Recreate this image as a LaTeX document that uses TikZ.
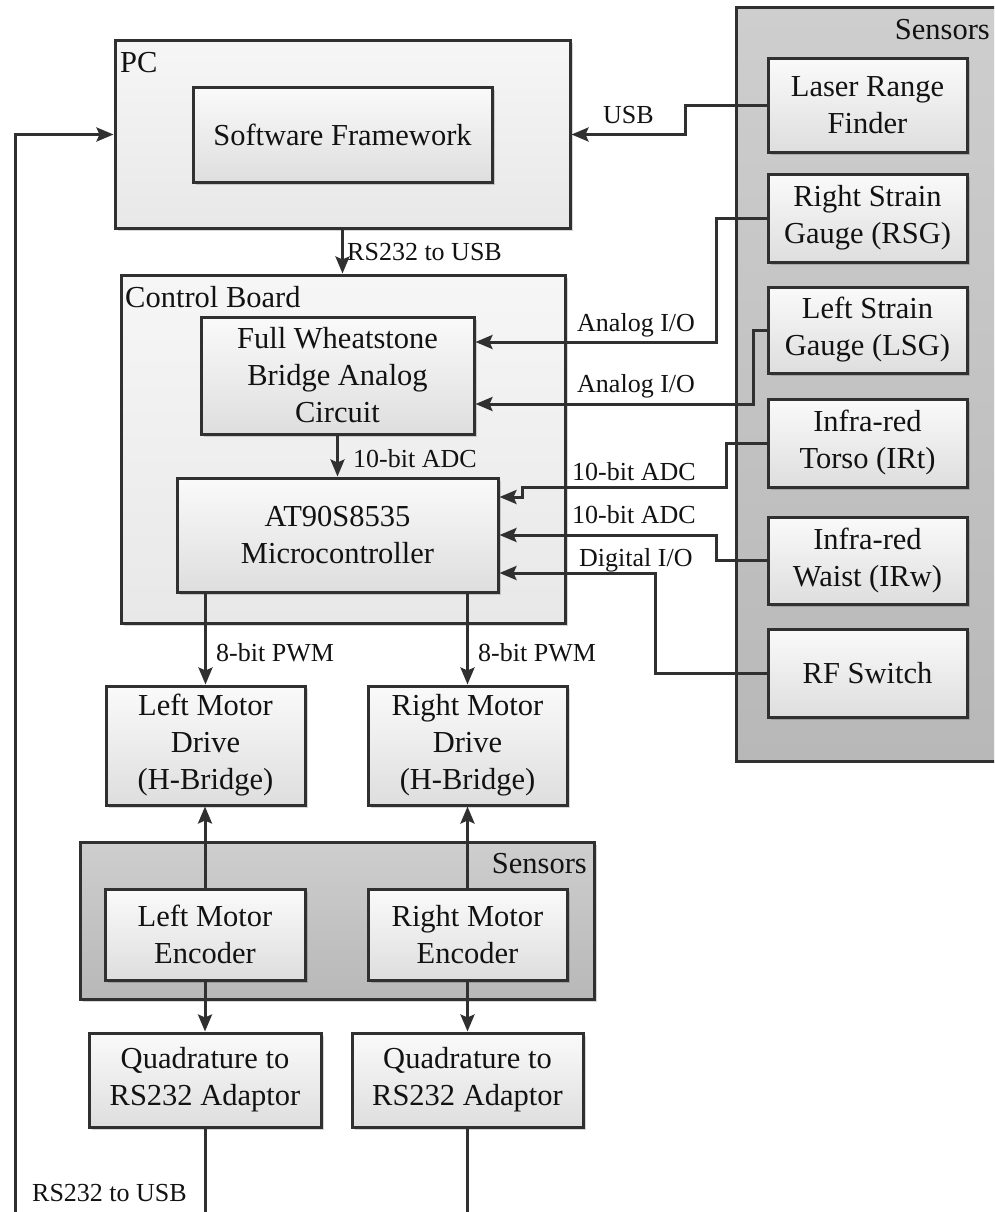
\documentclass[tikz,border=0pt]{standalone}
\usepackage{fontspec}
\setmainfont{Liberation Serif}
\usetikzlibrary{arrows.meta,shadows}

\definecolor{linecol}{RGB}{48,48,48}
\definecolor{textcol}{RGB}{18,18,18}
\definecolor{blktop}{RGB}{250,250,250}
\definecolor{blkbot}{RGB}{222,222,222}
\definecolor{grptop}{RGB}{246,246,246}
\definecolor{grpbot}{RGB}{232,232,232}
\definecolor{sentop}{RGB}{206,206,206}
\definecolor{senbot}{RGB}{184,184,184}

\newcommand\blkfont{\fontsize{30.5}{37}\selectfont}
\newcommand\lblfont{\fontsize{26}{30}\selectfont}

\begin{document}
\begin{tikzpicture}[x=1pt,y=-1pt,
  every node/.style={text=textcol},
  wire/.style={draw=linecol,line width=3pt},
  feed/.style={wire,-{Stealth[length=17pt,width=14pt,inset=3pt]}},
  softshadow/.style={drop shadow={shadow xshift=2.5pt,shadow yshift=-2.5pt,fill=black,opacity=0.16}},
  blk/.style={draw=linecol,line width=3pt,top color=blktop,bottom color=blkbot,
    align=center,inner sep=0pt,font=\blkfont,softshadow},
  grp/.style={draw=linecol,line width=3pt,top color=grptop,bottom color=grpbot,
    inner sep=0pt,softshadow},
  sengrp/.style={draw=linecol,line width=3pt,top color=sentop,bottom color=senbot,
    inner sep=0pt,softshadow},
  title/.style={font=\blkfont,inner sep=0pt},
  tag/.style={font=\lblfont,inner sep=0pt,anchor=base west},
  sensorbox/.style={blk,minimum width=199pt},
]
\useasboundingbox (0,0) rectangle (994,1212);
\clip (0,0) rectangle (994,1212);

% ---- group frames ----
\node[grp,minimum width=455pt,minimum height=187pt] (pc) at (342.5,134.5) {};
\node[title,anchor=base west] (pctitle) at (120,73) {PC};
\node[grp,minimum width=444pt,minimum height=348pt] (board) at (343,449) {};
\node[title,anchor=base west] (boardtitle) at (125,307) {Control Board};
% the right-hand sensor group is open on the right: only its fill reaches the page edge
\node[sengrp,draw=none,minimum width=320pt,minimum height=751pt] (sensR) at (898,384.5) {};
\draw[draw=linecol,line width=3pt] (sensR.north east) -| (sensR.south west) -- (sensR.south east);
\node[title,anchor=base east] (sensRtitle) at (990,40) {Sensors};
\node[sengrp,minimum width=514pt,minimum height=157pt] (sensB) at (337,920.5) {};
\node[title,anchor=base east] (sensBtitle) at (587,873) {Sensors};

% ---- blocks ----
\node[blk,minimum width=299pt,minimum height=94pt] (sf) at (342.5,135) {Software Framework};
\node[blk,minimum width=273pt,minimum height=117pt] (wheat) at (337.5,375.5) {Full Wheatstone\\Bridge Analog\\Circuit};
\node[blk,minimum width=321pt,minimum height=114pt] (micro) at (337.5,535) {AT90S8535\\Microcontroller};

\node[sensorbox,minimum height=93pt] (lrf) at (867.5,105.5) {Laser Range\\Finder};
\node[sensorbox,minimum height=88pt] (rsg) at (867.5,218) {Right Strain\\Gauge (RSG)};
\node[sensorbox,minimum height=86pt] (lsg) at (867.5,330) {Left Strain\\Gauge (LSG)};
\node[sensorbox,minimum height=88pt] (irt) at (867.5,443) {Infra-red\\Torso (IRt)};
\node[sensorbox,minimum height=87pt] (irw) at (867.5,560.5) {Infra-red\\Waist (IRw)};
\node[sensorbox,minimum height=88pt] (rf) at (867.5,673) {RF Switch};

\node[blk,minimum width=199pt,minimum height=119pt] (lmd) at (205.5,745.5) {Left Motor\\Drive\\(H-Bridge)};
\node[blk,minimum width=199pt,minimum height=119pt] (rmd) at (467.5,745.5) {Right Motor\\Drive\\(H-Bridge)};
\node[blk,minimum width=200pt,minimum height=91pt] (lme) at (205,934.5) {Left Motor\\Encoder};
\node[blk,minimum width=199pt,minimum height=91pt] (rme) at (467.5,934.5) {Right Motor\\Encoder};
\node[blk,minimum width=232pt,minimum height=94pt] (lq) at (205,1080) {Quadrature to\\RS232 Adaptor};
\node[blk,minimum width=231pt,minimum height=94pt] (rq) at (467.5,1080) {Quadrature to\\RS232 Adaptor};

% ---- open ends of the serial lines ----
\coordinate (lqout) at (205,1216);
\coordinate (rqout) at (467.5,1216);
\coordinate (fbin) at (15,1216);

% ---- connectors ----
\draw[feed] (lrf.west) -- ++(-81,0) |- (pc.east);
\node[tag] (usbtag) at (603,124) {USB};

\draw[feed] (pc.south) -- (pc.south |- board.north);
\node[tag] (rstag) at (347,260) {RS232 to USB};

\draw[feed] (rsg.west) -- ++(-50,0) |- (wheat.east |- 0,342);
\node[tag] (antag1) at (577,331) {Analog I/O};
\draw[feed] (lsg.west) -- ++(-13,0) |- (wheat.east |- 0,404);
\node[tag] (antag2) at (577,392) {Analog I/O};

\draw[feed] (wheat.south) -- (wheat.south |- micro.north);
\node[tag] (adctag0) at (353,467) {10-bit ADC};

\draw[feed] (irt.west) -- ++(-40,0) |- (522,487) -- (522,497) -- (micro.east |- 0,497);
\node[tag] (adctag1) at (572,480) {10-bit ADC};
\draw[feed] (irw.west) -- ++(-50,0) |- (micro.east);
\node[tag] (adctag2) at (572,523) {10-bit ADC};
\draw[feed] (rf.west) -- ++(-111,0) |- (micro.east |- 0,573);
\node[tag] (diotag) at (579,566) {Digital I/O};

\draw[feed] (lmd.north |- micro.south) -- (lmd.north);
\node[tag] (pwmtag1) at (216,661) {8-bit PWM};
\draw[feed] (rmd.north |- micro.south) -- (rmd.north);
\node[tag] (pwmtag2) at (478,661) {8-bit PWM};

\draw[feed] (lme.north) -- (lme.north |- lmd.south);
\draw[feed] (rme.north) -- (rme.north |- rmd.south);
\draw[feed] (lme.south) -- (lq.north);
\draw[feed] (rme.south) -- (rme.south |- rq.north);

\draw[wire] (lq.south) -- (lqout);
\draw[wire] (rq.south) -- (rqout);
\draw[feed] (fbin) |- (pc.west);
\node[tag] (rstag2) at (32,1201) {RS232 to USB};
\end{tikzpicture}
\end{document}
